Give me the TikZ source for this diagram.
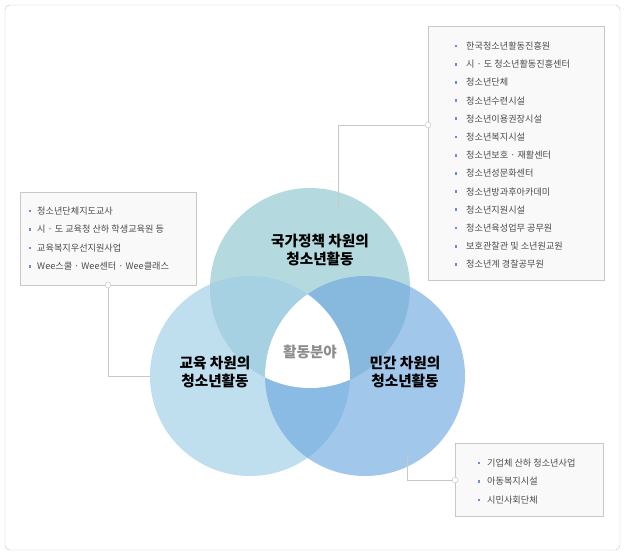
\documentclass[tikz,border=0pt]{standalone}
\usepackage{fontspec}
\setmainfont{Noto Sans CJK KR}
\usetikzlibrary{positioning}
\definecolor{topc}{HTML}{9CCDD3}
\definecolor{leftc}{HTML}{9DCDE6}
\definecolor{rightc}{HTML}{6FA9E0}
\definecolor{boxline}{HTML}{C8C8C8}
\definecolor{bul}{HTML}{6E8FC8}
\begin{document}
\begin{tikzpicture}[x=0.03cm,y=-0.03cm,
		infobox/.style = {draw=boxline, fill=gray!5, inner sep=0pt},
		item/.style = {font=\fontsize{7.8}{9}\selectfont, text=black!70, anchor=west, inner sep=0pt},
		bullet/.style = {fill=bul, minimum size=2.5pt, inner sep=0pt},
		conn/.style = {draw=boxline, line width=0.6pt},
		dot/.style = {circle, draw=boxline, fill=white, minimum size=5pt, inner sep=0pt},
		title/.style = {font=\fontsize{12.5}{15}\selectfont\bfseries, align=center}
		]
		\useasboundingbox (0,0) rectangle (626,559);
		\draw[boxline, rounded corners=4pt, fill=white] (5,5) rectangle (620,550);
		% circles
		\fill[topc, fill opacity=0.75] (310,288) circle (100);
		\fill[leftc, fill opacity=0.65] (250,376) circle (100);
		\fill[rightc, fill opacity=0.65] (365,376) circle (100);
		\begin{scope}
			\clip (310,288) circle (100);
			\clip (250,376) circle (100);
			\fill[white] (365,376) circle (100);
		\end{scope}
		\node (nat) [title] at (320,250) {국가정책 차원의\\청소년활동};
		\node (edu) [title] at (215,372) {교육 차원의\\청소년활동};
		\node (civ) [title] at (405,372) {민간 차원의\\청소년활동};
		\node (mid) [title, text=black!45] at (310,352) {활동분야};
		% boxes
		\node (lbox) [infobox, minimum width=176*0.03cm, minimum height=93*0.03cm, anchor=north west] at (20,192) {};
		\node (rbox) [infobox, minimum width=176*0.03cm, minimum height=254*0.03cm, anchor=north west] at (428,26) {};
		\node (bbox) [infobox, minimum width=148*0.03cm, minimum height=73*0.03cm, anchor=north west] at (455,443) {};
		\foreach \t [count=\i] in {청소년단체지도교사, 시 · 도 교육청 산하 학생교육원 등, 교육복지우선지원사업, Wee스쿨 · Wee센터 · Wee클래스}{
			\node[bullet] at (30,{211+18.5*(\i-1)}) {};
			\node[item] at (37,{211+18.5*(\i-1)}) {\t};
		}
		\foreach \t [count=\i] in {한국청소년활동진흥원, 시 · 도 청소년활동진흥센터, 청소년단체, 청소년수련시설, 청소년이용권장시설, 청소년복지시설, 청소년보호 · 재활센터, 청소년성문화센터, 청소년방과후아카데미, 청소년지원시설, 청소년육성업무 공무원, 보호관찰관 및 소년원교원, 청소년계 경찰공무원}{
			\node[bullet] at (456,{46+18.2*(\i-1)}) {};
			\node[item] at (466,{46+18.2*(\i-1)}) {\t};
		}
		\foreach \t [count=\i] in {기업체 산하 청소년사업, 아동복지시설, 시민사회단체}{
			\node[bullet] at (479,{463+18.5*(\i-1)}) {};
			\node[item] at (487,{463+18.5*(\i-1)}) {\t};
		}
		% connectors
		\coordinate (c1) at (338,207);
		\coordinate (c2) at (150,376);
		\coordinate (c3) at (407,455);
		\node (d1) [dot] at (428,125) {};
		\node (d2) [dot] at (108,285) {};
		\node (d3) [dot] at (455,480) {};
		\draw[conn] (c1) |- (d1);
		\draw[conn] (c2) -| (d2);
		\draw[conn] (c3) |- (d3);
\end{tikzpicture}
\end{document}
